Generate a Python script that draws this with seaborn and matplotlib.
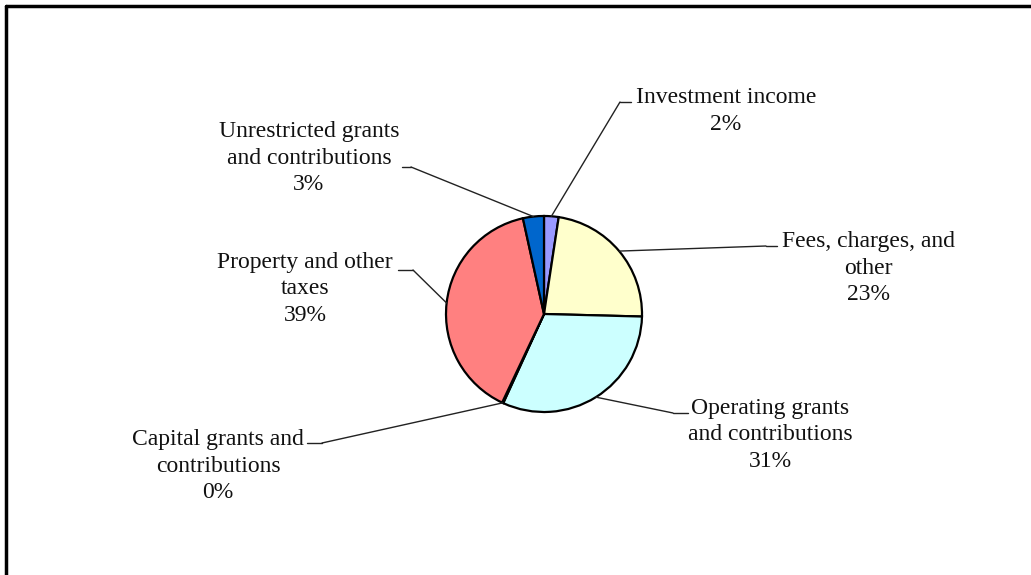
import numpy as np
import seaborn as sns
import matplotlib.pyplot as plt

# revenue shares, clockwise from 12 o'clock
labels = [
    "Investment income",
    "Fees, charges, and\nother",
    "Operating grants\nand contributions",
    "Capital grants and\ncontributions",
    "Property and other\ntaxes",
    "Unrestricted grants\nand contributions",
]
shares = [2.4, 23.0, 31.4, 0.2, 39.5, 3.45]
pct_text = ["2%", "23%", "31%", "0%", "39%", "3%"]
colors = ["#9999FF", "#FFFFCC", "#CCFFFF", "#660066", "#FF8080", "#0066CC"]

W, H = 1031, 575

sns.set_theme(style="white")
plt.rcParams["font.family"] = ["Liberation Serif", "DejaVu Serif"]

fig = plt.figure(figsize=(W / 100, H / 100), dpi=100)
ax = fig.add_axes([0, 0, 1, 1])

cx, cy, r = 544, H - 314, 98
wedges, _ = ax.pie(
    shares,
    colors=colors,
    startangle=90,
    counterclock=False,
    center=(cx, cy),
    radius=r,
    wedgeprops=dict(edgecolor="black", linewidth=1.6),
)

# label layout (pixel space, y from top): text centre, stub x-range, stub y
layout = [
    (726, 111, 620, 631, 102),
    (868, 268, 766, 777, 246),
    (770, 435, 673, 688, 413),
    (218, 466, 307, 322, 443),
    (305, 289, 398, 413, 270),
    (309, 158, 402, 411, 167),
]

for w, lab, pct, (tx, ty, sx0, sx1, sy) in zip(wedges, labels, pct_text, layout):
    mid = np.deg2rad((w.theta1 + w.theta2) / 2)
    ex, ey = cx + r * np.cos(mid), cy + r * np.sin(mid)
    ax.text(tx, H - ty, lab + "\n" + pct, ha="center", va="center",
            fontsize=17, linespacing=1.32, color="#111111")
    inner = sx0 if tx > cx else sx1
    ax.plot([sx0, sx1], [H - sy, H - sy], color="#222222", lw=1)
    ax.plot([inner, ex], [H - sy, ey], color="#222222", lw=1)

ax.set_xlim(0, W)
ax.set_ylim(0, H)
ax.set_aspect("equal")
ax.axis("off")

# cropped frame: only top and left edges visible
ax.plot([6, W], [H - 6, H - 6], color="black", lw=2.5)
ax.plot([6, 6], [H - 6, 0], color="black", lw=2.5)

fig.savefig("out.png", dpi=100, facecolor="white")
